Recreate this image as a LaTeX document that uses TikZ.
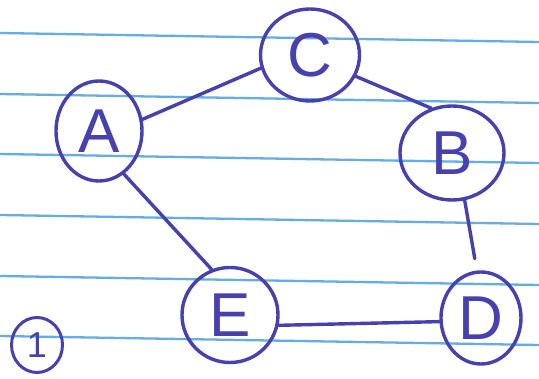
\documentclass[tikz,border=0pt]{standalone}
\usepackage{fontspec}
\setmainfont{Liberation Sans}
\usetikzlibrary{shapes.geometric}
\definecolor{ink}{HTML}{4640B0}
\definecolor{rule}{HTML}{64AEE4}
\tikzset{
  vertex/.style={ellipse, draw=ink, line width=3.4pt, text=ink, inner sep=0pt,
    font=\fontsize{62}{62}\selectfont},
  smallvertex/.style={ellipse, draw=ink, line width=3pt, text=ink, inner sep=0pt,
    font=\fontsize{36}{36}\selectfont},
  edge/.style={draw=ink, line width=3.4pt, line cap=round},
  ruling/.style={draw=rule, line width=2.3pt}
}
\begin{document}
\begin{tikzpicture}[x=1pt, y=-1pt]
  \useasboundingbox (0,0) rectangle (539,379);
  \fill[white] (0,0) rectangle (539,379);
  % ruled paper
  \foreach \yy in {33,94,154,215,276,336}
    \draw[ruling] (0,\yy) -- (539,\yy+9);
  % vertices
  \node[vertex, minimum width=99pt, minimum height=92pt] (C) at (310,55) {C};
  \node[vertex, minimum width=86pt, minimum height=100pt] (A) at (99,131) {A};
  \node[vertex, minimum width=104pt, minimum height=94pt] (B) at (452,153) {B};
  \node[vertex, minimum width=96pt, minimum height=95pt] (E) at (230,315) {E};
  \node[vertex, minimum width=80pt, minimum height=92pt] (D) at (481,318) {D};
  \node[smallvertex, minimum width=51pt, minimum height=55pt] (one) at (37,345) {1};
  % edges
  \draw[edge] (A.15) -- (C.195);
  \draw[edge] (C.-25) -- (B.115);
  \draw[edge] (A.-60) -- (E.112);
  \draw[edge, shorten >=12pt] (B.-75) -- (D.95);
  \draw[edge] (E.-12) -- (D.185);
\end{tikzpicture}
\end{document}
